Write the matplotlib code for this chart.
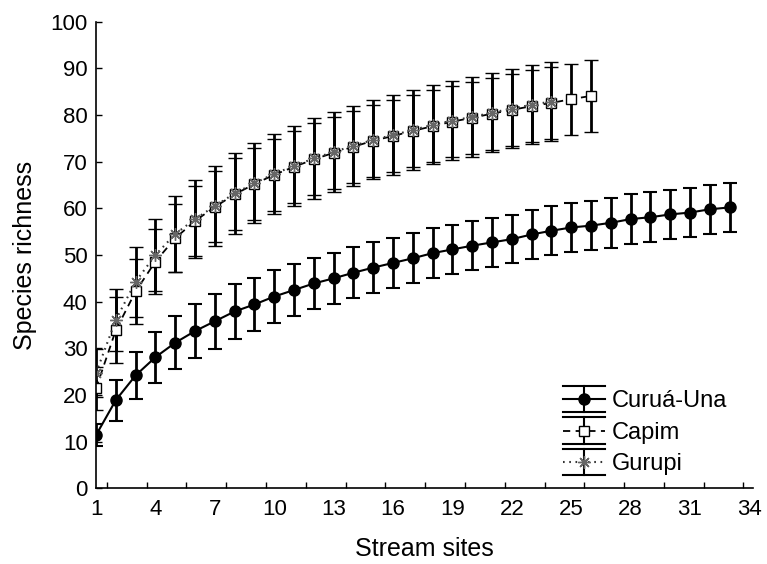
import numpy as np
import matplotlib
matplotlib.use("Agg")
import matplotlib.pyplot as plt
from matplotlib.lines import Line2D
from matplotlib.legend_handler import HandlerBase

plt.rcParams['font.family'] = ['Liberation Sans', 'DejaVu Sans']

# dados (media +- desvio)
x_cu = np.arange(1, 34)
cu_mean = [11.4, 18.9, 24.2, 28.1, 31.2, 33.7, 35.8, 37.9, 39.4, 41.1, 42.5, 43.9, 45.0,
           46.2, 47.3, 48.3, 49.3, 50.4, 51.2, 52.0, 52.7, 53.4, 54.4, 55.2, 55.9, 56.3,
           56.9, 57.7, 58.1, 58.7, 59.1, 59.8, 60.2]
cu_err = [2.3, 4.4, 5.1, 5.5, 5.7, 5.8, 5.9, 5.8, 5.7, 5.6, 5.6, 5.5, 5.5, 5.5, 5.4, 5.4,
          5.4, 5.4, 5.3, 5.3, 5.3, 5.2, 5.2, 5.3, 5.3, 5.3, 5.3, 5.3, 5.3, 5.3, 5.3, 5.3, 5.3]

x_ca = np.arange(1, 27)
ca_mean = [21.4, 33.9, 42.2, 48.6, 53.6, 57.3, 60.3, 63.0, 65.2, 67.2, 68.9, 70.5, 71.9,
           73.2, 74.5, 75.5, 76.6, 77.6, 78.6, 79.4, 80.3, 81.1, 81.9, 82.6, 83.4, 84.1]
ca_err = [4.6, 7.0, 7.0, 7.0, 7.3, 7.5, 7.6, 7.7, 7.7, 7.7, 7.7, 7.7, 7.7, 7.7, 7.7, 7.7,
          7.7, 7.7, 7.7, 7.7, 7.7, 7.7, 7.7, 7.7, 7.6, 7.7]

x_gu = np.arange(1, 25)
gu_mean = [24.7, 36.1, 44.3, 50.0, 54.5, 57.7, 60.5, 63.2, 65.4, 67.4, 69.1, 70.7, 72.1,
           73.4, 74.7, 75.7, 76.8, 77.9, 78.8, 79.6, 80.5, 81.4, 82.2, 82.9]
gu_err = [5.1, 6.6, 7.5, 7.8, 8.2, 8.4, 8.6, 8.6, 8.6, 8.6, 8.6, 8.6, 8.6, 8.6, 8.5, 8.5,
          8.5, 8.5, 8.5, 8.5, 8.5, 8.5, 8.5, 8.5]

labels = ['Curuá-Una', 'Capim', 'Gurupi']
xticks = np.arange(1, 35, 3)
yticks = np.arange(0, 101, 10)

fig = plt.figure(figsize=(7.67, 5.64), dpi=100)
ax = fig.add_axes([0.1252, 0.1342, 0.857, 0.8273])

# estilos das series
st_cu = dict(color='k', lw=1.5, marker='o', ms=8, mfc='k', mec='k')
st_ca = dict(color='k', lw=1.3, dashes=(4, 3), marker='s', ms=7, mfc='white', mec='k', mew=1)
st_gu = dict(color='0.2', lw=1.5, dashes=(0.8, 2.2), marker=(8, 2, 0), ms=9, mec='0.4', mew=1)

eb = dict(ecolor='k', elinewidth=2, capsize=5, capthick=1.5)
ax.errorbar(x_cu, cu_mean, yerr=cu_err, **st_cu, **eb)
ax.errorbar(x_ca, ca_mean, yerr=ca_err, **st_ca, **eb)
ax.errorbar(x_gu, gu_mean, yerr=gu_err, **st_gu, **eb)


class HandlerBar(HandlerBase):
    # desenha a linha com barra de erro como no Statistica
    def create_artists(self, legend, orig_handle, xdescent, ydescent, width, height,
                       fontsize, trans):
        x0 = -xdescent
        x1 = x0 + width
        xm = (x0 + x1) / 2
        yc = -ydescent + height / 2
        dy = 0.8 * height
        arts = []
        arts.append(Line2D([x0, x1], [yc + dy, yc + dy], color='k', lw=1.5))
        arts.append(Line2D([x0, x1], [yc - dy, yc - dy], color='k', lw=1.5))
        arts.append(Line2D([xm, xm], [yc - dy, yc + dy], color='k', lw=1.5))
        ln = Line2D([x0, x1], [yc, yc])
        ln.update_from(orig_handle)
        ln.set_marker('None')
        arts.append(ln)
        mk = Line2D([xm], [yc])
        mk.update_from(orig_handle)
        mk.set_linestyle('None')
        arts.append(mk)
        for a in arts:
            a.set_transform(trans)
        return arts


handles = [Line2D([], [], **st_cu), Line2D([], [], **st_ca), Line2D([], [], **st_gu)]
ax.legend(handles, labels,
          handler_map={Line2D: HandlerBar()}, loc='upper left',
          bbox_to_anchor=(0.711, 0.21), frameon=False, fontsize=17,
          handlelength=1.75, handletextpad=0.3, labelspacing=0.40, borderpad=0,
          borderaxespad=0)

ax.set_xlim(1, 34.2)
ax.set_ylim(0, 100)
ax.set_xticks(xticks)
ax.set_yticks(yticks)
ax.set_xticks(np.linspace(1.55, 33.7, 17), minor=True)
ax.tick_params(axis='x', which='major', length=0, labelsize=16, pad=8)
ax.tick_params(axis='x', which='minor', direction='in', length=4, width=1)
ax.tick_params(axis='y', direction='in', length=4, width=1, labelsize=16, pad=6)
ax.spines['top'].set_visible(False)
ax.spines['right'].set_visible(False)
ax.spines['left'].set_linewidth(1.2)
ax.spines['bottom'].set_linewidth(1.2)
ax.set_xlabel('Stream sites', fontsize=18, labelpad=12)
ax.set_ylabel('Species richness', fontsize=18, labelpad=10)

fig.savefig('out.png', dpi=100)
